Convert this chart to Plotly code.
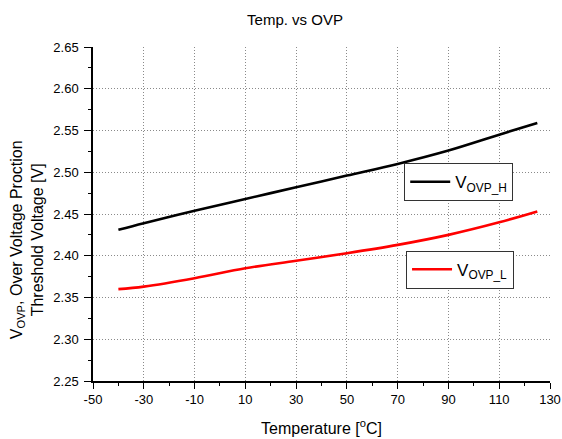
import plotly.graph_objects as go

temps = [-40, -30, -10, 10, 30, 50, 70, 90, 110, 125]
vovp_h = [2.431, 2.439, 2.454, 2.468, 2.482, 2.496, 2.510, 2.526, 2.545, 2.559]
vovp_l = [2.360, 2.363, 2.373, 2.385, 2.394, 2.403, 2.413, 2.425, 2.440, 2.453]

x_ticks = [-50, -30, -10, 10, 30, 50, 70, 90, 110, 130]
x_minor = [-40, -20, 0, 20, 40, 60, 80, 100, 120]
x_grid = [-30, -10, 10, 30, 50, 70, 90, 110]
y_ticks = [2.25, 2.30, 2.35, 2.40, 2.45, 2.50, 2.55, 2.60, 2.65]
y_grid = [2.30, 2.35, 2.40, 2.45, 2.50, 2.55, 2.60]

font_family = "Liberation Sans, Arial, sans-serif"
x_range = [-50, 130]
y_range = [2.25, 2.65]

fig = go.Figure()
fig.add_trace(go.Scatter(x=temps, y=vovp_h, mode="lines", line=dict(color="black", width=2.6, shape="spline"),
                         name="V<sub>OVP_H</sub>", legend="legend"))
# same ranges on the overlaid axes (x2/y2), which carry the dotted grid
fig.add_trace(go.Scatter(x=temps, y=vovp_l, mode="lines", line=dict(color="red", width=2.6, shape="spline"),
                         name="V<sub>OVP_L</sub>", legend="legend2", xaxis="x2", yaxis="y2"))

legend_style = dict(bgcolor="white", bordercolor="#333333", borderwidth=1,
                    font=dict(family=font_family, size=17, color="black"),
                    xanchor="left", yanchor="top", itemwidth=40, tracegroupgap=0)

grid_style = dict(showgrid=True, gridcolor="#8a8a8a", griddash="1px,2px", gridwidth=1,
                  showticklabels=False, ticks="", showline=False, zeroline=False, automargin=False)

fig.update_layout(
    width=562, height=439,
    margin=dict(l=93, r=12, t=47, b=58),
    paper_bgcolor="white", plot_bgcolor="white",
    font=dict(family=font_family, color="black", size=13),
    title=dict(text="Temp. vs OVP", x=0.525, xanchor="center", y=0.955, yanchor="middle",
               font=dict(size=15, family=font_family)),
    legend=dict(x=0.681, y=0.652, **legend_style),
    legend2=dict(x=0.685, y=0.39, **legend_style),
    showlegend=True,
    xaxis2=dict(overlaying="x", anchor="y2", range=x_range, tickvals=x_grid, **grid_style),
    yaxis2=dict(overlaying="y", anchor="x2", range=y_range, tickvals=y_grid, **grid_style),
    annotations=[dict(text="V<sub>OVP</sub>, Over Voltage Proction<br>Threshold Voltage [V]",
                      xref="paper", yref="paper", x=-0.144, y=0.422, xanchor="center", yanchor="middle",
                      textangle=-90, showarrow=False, align="center",
                      font=dict(size=16, family=font_family, color="black"))],
)

fig.update_layout(xaxis=dict(
    range=x_range, tickvals=x_ticks, ticktext=[str(v) for v in x_ticks],
    showline=True, linecolor="black", linewidth=1.5, ticks="outside", ticklen=6, tickwidth=1.2,
    tickcolor="black", tickfont=dict(size=13), automargin=False, showgrid=False, zeroline=False,
    minor=dict(tickvals=x_minor, ticks="outside", ticklen=3, tickcolor="black", showgrid=False),
    title=dict(text="Temperature [<sup>o</sup>C]", font=dict(size=16), standoff=16),
    layer="above traces",
))
fig.update_layout(yaxis=dict(
    range=y_range, tickvals=y_ticks, ticktext=[f"{v:.2f}" for v in y_ticks],
    showline=True, linecolor="black", linewidth=1.5, ticks="outside", ticklen=7, tickwidth=1.2,
    tickcolor="black", tickfont=dict(size=13), automargin=False, showgrid=False, zeroline=False,
    ticklabelstandoff=3,
    minor=dict(dtick=0.025, tick0=2.25, ticks="outside", ticklen=3, tickcolor="black", showgrid=False),
))

fig.write_html("out.html")
